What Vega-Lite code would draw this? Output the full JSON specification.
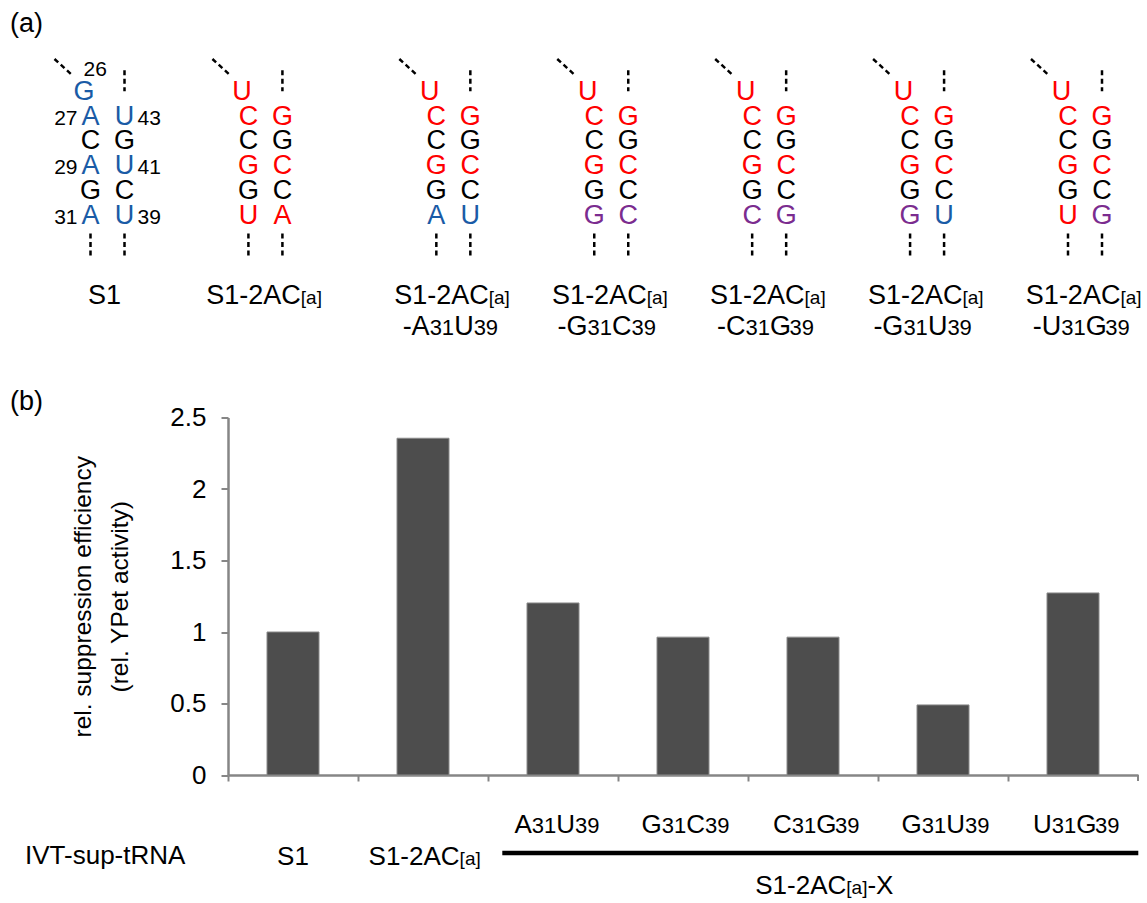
{
  "$schema": "https://vega.github.io/schema/vega-lite/v6.json",
  "width": 910,
  "height": 357.5,
  "autosize": {"type": "none"},
  "padding": {"left": 228, "top": 417.5, "right": 9, "bottom": 128},
  "background": "white",
  "config": {"font": "Liberation Sans", "view": {"stroke": null}, "text": {"font": "Liberation Sans", "color": "#000000"}},
  "datasets": {
    "bars": [
      {"sample": "S1", "value": 1.0},
      {"sample": "S1-2AC[a]", "value": 2.355},
      {"sample": "A31U39", "value": 1.203},
      {"sample": "G31C39", "value": 0.964},
      {"sample": "C31G39", "value": 0.964},
      {"sample": "G31U39", "value": 0.49},
      {"sample": "U31G39", "value": 1.273}
    ],
    "s2ac": [{"sample": "S1-2AC[a]", "main": "S1-2AC", "sub": "[a]"}],
    "xlab": [
      {"sample": "A31U39", "l1": "A", "n1": "31", "l2": "U", "n2": "39"},
      {"sample": "G31C39", "l1": "G", "n1": "31", "l2": "C", "n2": "39"},
      {"sample": "C31G39", "l1": "C", "n1": "31", "l2": "G", "n2": "39"},
      {"sample": "G31U39", "l1": "G", "n1": "31", "l2": "U", "n2": "39"},
      {"sample": "U31G39", "l1": "U", "n1": "31", "l2": "G", "n2": "39"}
    ],
    "xline": [{"from": "A31U39", "to": "U31G39"}],
    "xgroup": [{"sample": "C31G39", "main": "S1-2AC", "sub": "[a]", "tail": "-X"}],
    "ivt": [{"sample": "S1", "text": "IVT-sup-tRNA"}],
    "panels": [{"p": "(a)", "c": "S1"}, {"p": "(b)", "c": "S1"}],
    "labs": [
      {"c": "S1", "g": "S", "main": "S1"},
      {"c": "S1-2AC[a]", "g": "S", "main": "S1-2AC", "sub": "[a]"},
      {"c": "A31U39", "g": "X", "main": "S1-2AC", "sub": "[a]", "l1": "-A", "n1": "31", "l2": "U", "n2": "39"},
      {"c": "G31C39", "g": "X", "main": "S1-2AC", "sub": "[a]", "l1": "-G", "n1": "31", "l2": "C", "n2": "39"},
      {"c": "C31G39", "g": "X", "main": "S1-2AC", "sub": "[a]", "l1": "-C", "n1": "31", "l2": "G", "n2": "39"},
      {"c": "G31U39", "g": "X", "main": "S1-2AC", "sub": "[a]", "l1": "-G", "n1": "31", "l2": "U", "n2": "39"},
      {"c": "U31G39", "g": "X", "main": "S1-2AC", "sub": "[a]", "l1": "-U", "n1": "31", "l2": "G", "n2": "39"}
    ],
    "nums": [
      {"c": "S1", "g": "S", "side": "T", "r": 0, "t": "26"},
      {"c": "S1", "g": "S", "side": "L", "r": 1, "t": "27"},
      {"c": "S1", "g": "S", "side": "R", "r": 1, "t": "43"},
      {"c": "S1", "g": "S", "side": "L", "r": 3, "t": "29"},
      {"c": "S1", "g": "S", "side": "R", "r": 3, "t": "41"},
      {"c": "S1", "g": "S", "side": "L", "r": 5, "t": "31"},
      {"c": "S1", "g": "S", "side": "R", "r": 5, "t": "39"}
    ],
    "nt": [
      {"c": "S1", "g": "S", "s": "T", "r": 0, "b": "G", "k": "w"},
      {"c": "S1", "g": "S", "s": "L", "r": 1, "b": "A", "k": "w"},
      {"c": "S1", "g": "S", "s": "L", "r": 2, "b": "C", "k": "k"},
      {"c": "S1", "g": "S", "s": "L", "r": 3, "b": "A", "k": "w"},
      {"c": "S1", "g": "S", "s": "L", "r": 4, "b": "G", "k": "k"},
      {"c": "S1", "g": "S", "s": "L", "r": 5, "b": "A", "k": "w"},
      {"c": "S1", "g": "S", "s": "R", "r": 1, "b": "U", "k": "w"},
      {"c": "S1", "g": "S", "s": "R", "r": 2, "b": "G", "k": "k"},
      {"c": "S1", "g": "S", "s": "R", "r": 3, "b": "U", "k": "w"},
      {"c": "S1", "g": "S", "s": "R", "r": 4, "b": "C", "k": "k"},
      {"c": "S1", "g": "S", "s": "R", "r": 5, "b": "U", "k": "w"},

      {"c": "S1-2AC[a]", "g": "S", "s": "T", "r": 0, "b": "U", "k": "m"},
      {"c": "S1-2AC[a]", "g": "S", "s": "L", "r": 1, "b": "C", "k": "m"},
      {"c": "S1-2AC[a]", "g": "S", "s": "L", "r": 2, "b": "C", "k": "k"},
      {"c": "S1-2AC[a]", "g": "S", "s": "L", "r": 3, "b": "G", "k": "m"},
      {"c": "S1-2AC[a]", "g": "S", "s": "L", "r": 4, "b": "G", "k": "k"},
      {"c": "S1-2AC[a]", "g": "S", "s": "L", "r": 5, "b": "U", "k": "m"},
      {"c": "S1-2AC[a]", "g": "S", "s": "R", "r": 1, "b": "G", "k": "m"},
      {"c": "S1-2AC[a]", "g": "S", "s": "R", "r": 2, "b": "G", "k": "k"},
      {"c": "S1-2AC[a]", "g": "S", "s": "R", "r": 3, "b": "C", "k": "m"},
      {"c": "S1-2AC[a]", "g": "S", "s": "R", "r": 4, "b": "C", "k": "k"},
      {"c": "S1-2AC[a]", "g": "S", "s": "R", "r": 5, "b": "A", "k": "m"},

      {"c": "A31U39", "g": "X", "s": "T", "r": 0, "b": "U", "k": "m"},
      {"c": "A31U39", "g": "X", "s": "L", "r": 1, "b": "C", "k": "m"},
      {"c": "A31U39", "g": "X", "s": "L", "r": 2, "b": "C", "k": "k"},
      {"c": "A31U39", "g": "X", "s": "L", "r": 3, "b": "G", "k": "m"},
      {"c": "A31U39", "g": "X", "s": "L", "r": 4, "b": "G", "k": "k"},
      {"c": "A31U39", "g": "X", "s": "L", "r": 5, "b": "A", "k": "w"},
      {"c": "A31U39", "g": "X", "s": "R", "r": 1, "b": "G", "k": "m"},
      {"c": "A31U39", "g": "X", "s": "R", "r": 2, "b": "G", "k": "k"},
      {"c": "A31U39", "g": "X", "s": "R", "r": 3, "b": "C", "k": "m"},
      {"c": "A31U39", "g": "X", "s": "R", "r": 4, "b": "C", "k": "k"},
      {"c": "A31U39", "g": "X", "s": "R", "r": 5, "b": "U", "k": "w"},

      {"c": "G31C39", "g": "X", "s": "T", "r": 0, "b": "U", "k": "m"},
      {"c": "G31C39", "g": "X", "s": "L", "r": 1, "b": "C", "k": "m"},
      {"c": "G31C39", "g": "X", "s": "L", "r": 2, "b": "C", "k": "k"},
      {"c": "G31C39", "g": "X", "s": "L", "r": 3, "b": "G", "k": "m"},
      {"c": "G31C39", "g": "X", "s": "L", "r": 4, "b": "G", "k": "k"},
      {"c": "G31C39", "g": "X", "s": "L", "r": 5, "b": "G", "k": "p"},
      {"c": "G31C39", "g": "X", "s": "R", "r": 1, "b": "G", "k": "m"},
      {"c": "G31C39", "g": "X", "s": "R", "r": 2, "b": "G", "k": "k"},
      {"c": "G31C39", "g": "X", "s": "R", "r": 3, "b": "C", "k": "m"},
      {"c": "G31C39", "g": "X", "s": "R", "r": 4, "b": "C", "k": "k"},
      {"c": "G31C39", "g": "X", "s": "R", "r": 5, "b": "C", "k": "p"},

      {"c": "C31G39", "g": "X", "s": "T", "r": 0, "b": "U", "k": "m"},
      {"c": "C31G39", "g": "X", "s": "L", "r": 1, "b": "C", "k": "m"},
      {"c": "C31G39", "g": "X", "s": "L", "r": 2, "b": "C", "k": "k"},
      {"c": "C31G39", "g": "X", "s": "L", "r": 3, "b": "G", "k": "m"},
      {"c": "C31G39", "g": "X", "s": "L", "r": 4, "b": "G", "k": "k"},
      {"c": "C31G39", "g": "X", "s": "L", "r": 5, "b": "C", "k": "p"},
      {"c": "C31G39", "g": "X", "s": "R", "r": 1, "b": "G", "k": "m"},
      {"c": "C31G39", "g": "X", "s": "R", "r": 2, "b": "G", "k": "k"},
      {"c": "C31G39", "g": "X", "s": "R", "r": 3, "b": "C", "k": "m"},
      {"c": "C31G39", "g": "X", "s": "R", "r": 4, "b": "C", "k": "k"},
      {"c": "C31G39", "g": "X", "s": "R", "r": 5, "b": "G", "k": "p"},

      {"c": "G31U39", "g": "X", "s": "T", "r": 0, "b": "U", "k": "m"},
      {"c": "G31U39", "g": "X", "s": "L", "r": 1, "b": "C", "k": "m"},
      {"c": "G31U39", "g": "X", "s": "L", "r": 2, "b": "C", "k": "k"},
      {"c": "G31U39", "g": "X", "s": "L", "r": 3, "b": "G", "k": "m"},
      {"c": "G31U39", "g": "X", "s": "L", "r": 4, "b": "G", "k": "k"},
      {"c": "G31U39", "g": "X", "s": "L", "r": 5, "b": "G", "k": "p"},
      {"c": "G31U39", "g": "X", "s": "R", "r": 1, "b": "G", "k": "m"},
      {"c": "G31U39", "g": "X", "s": "R", "r": 2, "b": "G", "k": "k"},
      {"c": "G31U39", "g": "X", "s": "R", "r": 3, "b": "C", "k": "m"},
      {"c": "G31U39", "g": "X", "s": "R", "r": 4, "b": "C", "k": "k"},
      {"c": "G31U39", "g": "X", "s": "R", "r": 5, "b": "U", "k": "w"},

      {"c": "U31G39", "g": "X", "s": "T", "r": 0, "b": "U", "k": "m"},
      {"c": "U31G39", "g": "X", "s": "L", "r": 1, "b": "C", "k": "m"},
      {"c": "U31G39", "g": "X", "s": "L", "r": 2, "b": "C", "k": "k"},
      {"c": "U31G39", "g": "X", "s": "L", "r": 3, "b": "G", "k": "m"},
      {"c": "U31G39", "g": "X", "s": "L", "r": 4, "b": "G", "k": "k"},
      {"c": "U31G39", "g": "X", "s": "L", "r": 5, "b": "U", "k": "m"},
      {"c": "U31G39", "g": "X", "s": "R", "r": 1, "b": "G", "k": "m"},
      {"c": "U31G39", "g": "X", "s": "R", "r": 2, "b": "G", "k": "k"},
      {"c": "U31G39", "g": "X", "s": "R", "r": 3, "b": "C", "k": "m"},
      {"c": "U31G39", "g": "X", "s": "R", "r": 4, "b": "C", "k": "k"},
      {"c": "U31G39", "g": "X", "s": "R", "r": 5, "b": "G", "k": "p"}
    ]
  },
  "layer": [
    {
      "layer": [
        {
          "data": {"name": "bars"},
          "mark": {"type": "bar", "color": "#4d4d4d", "stroke": "#8a8a8a", "strokeWidth": 1, "width": {"band": 1}},
          "encoding": {
            "x": {"field": "sample", "type": "nominal", "sort": null,
              "scale": {"type": "band", "domain": ["S1", "S1-2AC[a]", "A31U39", "G31C39", "C31G39", "G31U39", "U31G39"], "paddingInner": 0.6, "paddingOuter": 0.3},
              "axis": {"labels": false, "title": null, "tickOffset": -65, "tickSize": 6, "tickColor": "#868686", "tickWidth": 2, "domainColor": "#868686", "domainWidth": 2.5, "grid": false}},
            "y": {"field": "value", "type": "quantitative",
              "scale": {"domain": [0, 2.5], "nice": false},
              "axis": {"values": [0, 0.5, 1, 1.5, 2, 2.5], "format": "~g", "labelFontSize": 26, "labelColor": "#000000", "labelPadding": 15, "labelFont": "Liberation Sans",
                "tickSize": 7, "tickColor": "#868686", "tickWidth": 2, "domainColor": "#868686", "domainWidth": 2.5, "grid": false,
                "title": ["rel. suppression efficiency", "(rel. YPet activity)"], "titleFont": "Liberation Sans", "titleFontSize": 24.5, "titleFontWeight": "normal", "titleColor": "#000000", "titleLineHeight": 37, "titlePadding": 37}}
          }
        },
        {
          "data": {"name": "xline"},
          "mark": {"type": "rule", "color": "#868686", "strokeWidth": 2, "xOffset": 65, "y2Offset": 6},
          "encoding": {
            "x": {"field": "to", "type": "nominal", "scale": {"type": "band", "domain": ["S1", "S1-2AC[a]", "A31U39", "G31C39", "C31G39", "G31U39", "U31G39"], "paddingInner": 0.6, "paddingOuter": 0.3}},
            "y": {"datum": 0, "type": "quantitative", "scale": {"domain": [0, 2.5], "nice": false}},
            "y2": {"datum": 0}
          }
        },
        {
          "data": {"name": "bars"},
          "transform": [{"filter": "datum.sample === 'S1'"}],
          "mark": {"type": "text", "fontSize": 26, "align": "center", "baseline": "alphabetic", "dy": 90},
          "encoding": {
            "x": {"field": "sample", "type": "nominal", "scale": {"type": "band", "domain": ["S1", "S1-2AC[a]", "A31U39", "G31C39", "C31G39", "G31U39", "U31G39"], "paddingInner": 0.6, "paddingOuter": 0.3}},
            "y": {"datum": 0, "type": "quantitative", "scale": {"domain": [0, 2.5], "nice": false}},
            "text": {"field": "sample"}
          }
        },
        {
          "data": {"name": "s2ac"},
          "mark": {"type": "text", "fontSize": 26, "align": "right", "baseline": "alphabetic", "dx": 36.6, "dy": 90},
          "encoding": {
            "x": {"field": "sample", "type": "nominal", "scale": {"type": "band", "domain": ["S1", "S1-2AC[a]", "A31U39", "G31C39", "C31G39", "G31U39", "U31G39"], "paddingInner": 0.6, "paddingOuter": 0.3}},
            "y": {"datum": 0, "type": "quantitative", "scale": {"domain": [0, 2.5], "nice": false}},
            "text": {"field": "main"}
          }
        },
        {
          "data": {"name": "s2ac"},
          "mark": {"type": "text", "fontSize": 19, "align": "left", "baseline": "alphabetic", "dx": 36.6, "dy": 90},
          "encoding": {
            "x": {"field": "sample", "type": "nominal", "scale": {"type": "band", "domain": ["S1", "S1-2AC[a]", "A31U39", "G31C39", "C31G39", "G31U39", "U31G39"], "paddingInner": 0.6, "paddingOuter": 0.3}},
            "y": {"datum": 0, "type": "quantitative", "scale": {"domain": [0, 2.5], "nice": false}},
            "text": {"field": "sub"}
          }
        },
        {
          "data": {"name": "xlab"},
          "mark": {"type": "text", "fontSize": 26, "align": "right", "baseline": "alphabetic", "dx": -21.2, "dy": 58},
          "encoding": {
            "x": {"field": "sample", "type": "nominal", "scale": {"type": "band", "domain": ["S1", "S1-2AC[a]", "A31U39", "G31C39", "C31G39", "G31U39", "U31G39"], "paddingInner": 0.6, "paddingOuter": 0.3}},
            "y": {"datum": 0, "type": "quantitative", "scale": {"domain": [0, 2.5], "nice": false}},
            "text": {"field": "l1"}
          }
        },
        {
          "data": {"name": "xlab"},
          "mark": {"type": "text", "fontSize": 22, "align": "left", "baseline": "alphabetic", "dx": -21.2, "dy": 58},
          "encoding": {
            "x": {"field": "sample", "type": "nominal", "scale": {"type": "band", "domain": ["S1", "S1-2AC[a]", "A31U39", "G31C39", "C31G39", "G31U39", "U31G39"], "paddingInner": 0.6, "paddingOuter": 0.3}},
            "y": {"datum": 0, "type": "quantitative", "scale": {"domain": [0, 2.5], "nice": false}},
            "text": {"field": "n1"}
          }
        },
        {
          "data": {"name": "xlab"},
          "mark": {"type": "text", "fontSize": 26, "align": "left", "baseline": "alphabetic", "dx": 3.3, "dy": 58},
          "encoding": {
            "x": {"field": "sample", "type": "nominal", "scale": {"type": "band", "domain": ["S1", "S1-2AC[a]", "A31U39", "G31C39", "C31G39", "G31U39", "U31G39"], "paddingInner": 0.6, "paddingOuter": 0.3}},
            "y": {"datum": 0, "type": "quantitative", "scale": {"domain": [0, 2.5], "nice": false}},
            "text": {"field": "l2"}
          }
        },
        {
          "data": {"name": "xlab"},
          "mark": {"type": "text", "fontSize": 22, "align": "left", "baseline": "alphabetic", "dx": 22.1, "dy": 58},
          "encoding": {
            "x": {"field": "sample", "type": "nominal", "scale": {"type": "band", "domain": ["S1", "S1-2AC[a]", "A31U39", "G31C39", "C31G39", "G31U39", "U31G39"], "paddingInner": 0.6, "paddingOuter": 0.3}},
            "y": {"datum": 0, "type": "quantitative", "scale": {"domain": [0, 2.5], "nice": false}},
            "text": {"field": "n2"}
          }
        },
        {
          "data": {"name": "xline"},
          "mark": {"type": "rule", "color": "#000000", "strokeWidth": 4.5, "xOffset": -50.7, "x2Offset": 65.3, "yOffset": 78},
          "encoding": {
            "x": {"field": "from", "type": "nominal", "scale": {"type": "band", "domain": ["S1", "S1-2AC[a]", "A31U39", "G31C39", "C31G39", "G31U39", "U31G39"], "paddingInner": 0.6, "paddingOuter": 0.3}},
            "x2": {"field": "to"},
            "y": {"datum": 0, "type": "quantitative", "scale": {"domain": [0, 2.5], "nice": false}}
          }
        },
        {
          "data": {"name": "xgroup"},
          "mark": {"type": "text", "fontSize": 26, "align": "right", "baseline": "alphabetic", "dx": 33.3, "dy": 119},
          "encoding": {
            "x": {"field": "sample", "type": "nominal", "scale": {"type": "band", "domain": ["S1", "S1-2AC[a]", "A31U39", "G31C39", "C31G39", "G31U39", "U31G39"], "paddingInner": 0.6, "paddingOuter": 0.3}},
            "y": {"datum": 0, "type": "quantitative", "scale": {"domain": [0, 2.5], "nice": false}},
            "text": {"field": "main"}
          }
        },
        {
          "data": {"name": "xgroup"},
          "mark": {"type": "text", "fontSize": 19, "align": "left", "baseline": "alphabetic", "dx": 33.3, "dy": 119},
          "encoding": {
            "x": {"field": "sample", "type": "nominal", "scale": {"type": "band", "domain": ["S1", "S1-2AC[a]", "A31U39", "G31C39", "C31G39", "G31U39", "U31G39"], "paddingInner": 0.6, "paddingOuter": 0.3}},
            "y": {"datum": 0, "type": "quantitative", "scale": {"domain": [0, 2.5], "nice": false}},
            "text": {"field": "sub"}
          }
        },
        {
          "data": {"name": "xgroup"},
          "mark": {"type": "text", "fontSize": 26, "align": "left", "baseline": "alphabetic", "dx": 54.4, "dy": 119},
          "encoding": {
            "x": {"field": "sample", "type": "nominal", "scale": {"type": "band", "domain": ["S1", "S1-2AC[a]", "A31U39", "G31C39", "C31G39", "G31U39", "U31G39"], "paddingInner": 0.6, "paddingOuter": 0.3}},
            "y": {"datum": 0, "type": "quantitative", "scale": {"domain": [0, 2.5], "nice": false}},
            "text": {"field": "tail"}
          }
        },
        {
          "data": {"name": "ivt"},
          "mark": {"type": "text", "fontSize": 26, "align": "left", "baseline": "alphabetic", "dx": -268, "dy": 89},
          "encoding": {
            "x": {"field": "sample", "type": "nominal", "scale": {"type": "band", "domain": ["S1", "S1-2AC[a]", "A31U39", "G31C39", "C31G39", "G31U39", "U31G39"], "paddingInner": 0.6, "paddingOuter": 0.3}},
            "y": {"datum": 0, "type": "quantitative", "scale": {"domain": [0, 2.5], "nice": false}},
            "text": {"field": "text"}
          }
        }
      ]
    },
    {
      "layer": [
        {
          "data": {"name": "nt"},
          "transform": [{"filter": "datum.s === 'T'"}],
          "mark": {"type": "text", "fontSize": 27, "align": "center", "baseline": "alphabetic", "dx": -23.5},
          "encoding": {
            "x": {"field": "c", "type": "nominal", "scale": {"type": "point", "domain": ["S1", "S1-2AC[a]", "A31U39", "G31C39", "C31G39", "G31U39", "U31G39"], "range": [-90.5, 857], "padding": 0}, "axis": null},
            "xOffset": {"field": "g", "type": "nominal", "scale": {"type": "point", "domain": ["S", "X"], "range": [-30, 0], "padding": 0}},
            "y": {"field": "r", "type": "quantitative", "scale": {"domain": [0, 10], "range": [-317.5, -70.3], "nice": false, "zero": false}, "axis": null},
            "text": {"field": "b"},
            "color": {"field": "k", "type": "nominal", "scale": {"domain": ["w", "m", "p", "k"], "range": ["#1a5ba6", "#ff0000", "#7b2c8f", "#000000"]}, "legend": null}
          }
        },
        {
          "data": {"name": "nt"},
          "transform": [{"filter": "datum.s === 'L'"}],
          "mark": {"type": "text", "fontSize": 27, "align": "center", "baseline": "alphabetic", "dx": -17},
          "encoding": {
            "x": {"field": "c", "type": "nominal", "scale": {"type": "point", "domain": ["S1", "S1-2AC[a]", "A31U39", "G31C39", "C31G39", "G31U39", "U31G39"], "range": [-90.5, 857], "padding": 0}, "axis": null},
            "xOffset": {"field": "g", "type": "nominal", "scale": {"type": "point", "domain": ["S", "X"], "range": [-30, 0], "padding": 0}},
            "y": {"field": "r", "type": "quantitative", "scale": {"domain": [0, 10], "range": [-317.5, -70.3], "nice": false, "zero": false}, "axis": null},
            "text": {"field": "b"},
            "color": {"field": "k", "type": "nominal", "scale": {"domain": ["w", "m", "p", "k"], "range": ["#1a5ba6", "#ff0000", "#7b2c8f", "#000000"]}, "legend": null}
          }
        },
        {
          "data": {"name": "nt"},
          "transform": [{"filter": "datum.s === 'R'"}],
          "mark": {"type": "text", "fontSize": 27, "align": "center", "baseline": "alphabetic", "dx": 17},
          "encoding": {
            "x": {"field": "c", "type": "nominal", "scale": {"type": "point", "domain": ["S1", "S1-2AC[a]", "A31U39", "G31C39", "C31G39", "G31U39", "U31G39"], "range": [-90.5, 857], "padding": 0}, "axis": null},
            "xOffset": {"field": "g", "type": "nominal", "scale": {"type": "point", "domain": ["S", "X"], "range": [-30, 0], "padding": 0}},
            "y": {"field": "r", "type": "quantitative", "scale": {"domain": [0, 10], "range": [-317.5, -70.3], "nice": false, "zero": false}, "axis": null},
            "text": {"field": "b"},
            "color": {"field": "k", "type": "nominal", "scale": {"domain": ["w", "m", "p", "k"], "range": ["#1a5ba6", "#ff0000", "#7b2c8f", "#000000"]}, "legend": null}
          }
        },
        {
          "data": {"name": "nums"},
          "transform": [{"filter": "datum.side === 'L'"}],
          "mark": {"type": "text", "fontSize": 21, "align": "right", "baseline": "alphabetic", "dx": -30},
          "encoding": {
            "x": {"field": "c", "type": "nominal", "scale": {"type": "point", "domain": ["S1", "S1-2AC[a]", "A31U39", "G31C39", "C31G39", "G31U39", "U31G39"], "range": [-90.5, 857], "padding": 0}, "axis": null},
            "xOffset": {"field": "g", "type": "nominal", "scale": {"type": "point", "domain": ["S", "X"], "range": [-30, 0], "padding": 0}},
            "y": {"field": "r", "type": "quantitative", "scale": {"domain": [0, 10], "range": [-317.5, -70.3], "nice": false, "zero": false}, "axis": null},
            "text": {"field": "t"}
          }
        },
        {
          "data": {"name": "nums"},
          "transform": [{"filter": "datum.side === 'R'"}],
          "mark": {"type": "text", "fontSize": 21, "align": "left", "baseline": "alphabetic", "dx": 30},
          "encoding": {
            "x": {"field": "c", "type": "nominal", "scale": {"type": "point", "domain": ["S1", "S1-2AC[a]", "A31U39", "G31C39", "C31G39", "G31U39", "U31G39"], "range": [-90.5, 857], "padding": 0}, "axis": null},
            "xOffset": {"field": "g", "type": "nominal", "scale": {"type": "point", "domain": ["S", "X"], "range": [-30, 0], "padding": 0}},
            "y": {"field": "r", "type": "quantitative", "scale": {"domain": [0, 10], "range": [-317.5, -70.3], "nice": false, "zero": false}, "axis": null},
            "text": {"field": "t"}
          }
        },
        {
          "data": {"name": "nums"},
          "transform": [{"filter": "datum.side === 'T'"}],
          "mark": {"type": "text", "fontSize": 21, "align": "left", "baseline": "alphabetic", "dx": -24, "dy": -24.5},
          "encoding": {
            "x": {"field": "c", "type": "nominal", "scale": {"type": "point", "domain": ["S1", "S1-2AC[a]", "A31U39", "G31C39", "C31G39", "G31U39", "U31G39"], "range": [-90.5, 857], "padding": 0}, "axis": null},
            "xOffset": {"field": "g", "type": "nominal", "scale": {"type": "point", "domain": ["S", "X"], "range": [-30, 0], "padding": 0}},
            "y": {"field": "r", "type": "quantitative", "scale": {"domain": [0, 10], "range": [-317.5, -70.3], "nice": false, "zero": false}, "axis": null},
            "text": {"field": "t"}
          }
        },
        {
          "data": {"name": "labs"},
          "transform": [{"filter": "datum.sub"}],
          "mark": {"type": "text", "fontSize": 27, "align": "right", "baseline": "alphabetic", "dx": 35.4},
          "encoding": {
            "x": {"field": "c", "type": "nominal", "scale": {"type": "point", "domain": ["S1", "S1-2AC[a]", "A31U39", "G31C39", "C31G39", "G31U39", "U31G39"], "range": [-90.5, 857], "padding": 0}, "axis": null},
            "xOffset": {"field": "g", "type": "nominal", "scale": {"type": "point", "domain": ["S", "X"], "range": [-30, 0], "padding": 0}},
            "y": {"datum": 8.27, "type": "quantitative", "scale": {"domain": [0, 10], "range": [-317.5, -70.3], "nice": false, "zero": false}, "axis": null},
            "text": {"field": "main"}
          }
        },
        {
          "data": {"name": "labs"},
          "transform": [{"filter": "datum.sub"}],
          "mark": {"type": "text", "fontSize": 19, "align": "left", "baseline": "alphabetic", "dx": 35.4},
          "encoding": {
            "x": {"field": "c", "type": "nominal", "scale": {"type": "point", "domain": ["S1", "S1-2AC[a]", "A31U39", "G31C39", "C31G39", "G31U39", "U31G39"], "range": [-90.5, 857], "padding": 0}, "axis": null},
            "xOffset": {"field": "g", "type": "nominal", "scale": {"type": "point", "domain": ["S", "X"], "range": [-30, 0], "padding": 0}},
            "y": {"datum": 8.27, "type": "quantitative", "scale": {"domain": [0, 10], "range": [-317.5, -70.3], "nice": false, "zero": false}, "axis": null},
            "text": {"field": "sub"}
          }
        },
        {
          "data": {"name": "labs"},
          "transform": [{"filter": "datum.c === 'S1'"}],
          "mark": {"type": "text", "fontSize": 27, "align": "center", "baseline": "alphabetic", "dx": -3},
          "encoding": {
            "x": {"field": "c", "type": "nominal", "scale": {"type": "point", "domain": ["S1", "S1-2AC[a]", "A31U39", "G31C39", "C31G39", "G31U39", "U31G39"], "range": [-90.5, 857], "padding": 0}, "axis": null},
            "xOffset": {"field": "g", "type": "nominal", "scale": {"type": "point", "domain": ["S", "X"], "range": [-30, 0], "padding": 0}},
            "y": {"datum": 8.27, "type": "quantitative", "scale": {"domain": [0, 10], "range": [-317.5, -70.3], "nice": false, "zero": false}, "axis": null},
            "text": {"field": "main"}
          }
        },
        {
          "data": {"name": "labs"},
          "transform": [{"filter": "datum.g === 'X'"}],
          "mark": {"type": "text", "fontSize": 27, "align": "right", "baseline": "alphabetic", "dx": -23.7},
          "encoding": {
            "x": {"field": "c", "type": "nominal", "scale": {"type": "point", "domain": ["S1", "S1-2AC[a]", "A31U39", "G31C39", "C31G39", "G31U39", "U31G39"], "range": [-90.5, 857], "padding": 0}, "axis": null},
            "xOffset": {"field": "g", "type": "nominal", "scale": {"type": "point", "domain": ["S", "X"], "range": [-30, 0], "padding": 0}},
            "y": {"datum": 9.51, "type": "quantitative", "scale": {"domain": [0, 10], "range": [-317.5, -70.3], "nice": false, "zero": false}, "axis": null},
            "text": {"field": "l1"}
          }
        },
        {
          "data": {"name": "labs"},
          "transform": [{"filter": "datum.g === 'X'"}],
          "mark": {"type": "text", "fontSize": 22, "align": "left", "baseline": "alphabetic", "dx": -23.7},
          "encoding": {
            "x": {"field": "c", "type": "nominal", "scale": {"type": "point", "domain": ["S1", "S1-2AC[a]", "A31U39", "G31C39", "C31G39", "G31U39", "U31G39"], "range": [-90.5, 857], "padding": 0}, "axis": null},
            "xOffset": {"field": "g", "type": "nominal", "scale": {"type": "point", "domain": ["S", "X"], "range": [-30, 0], "padding": 0}},
            "y": {"datum": 9.51, "type": "quantitative", "scale": {"domain": [0, 10], "range": [-317.5, -70.3], "nice": false, "zero": false}, "axis": null},
            "text": {"field": "n1"}
          }
        },
        {
          "data": {"name": "labs"},
          "transform": [{"filter": "datum.g === 'X'"}],
          "mark": {"type": "text", "fontSize": 27, "align": "left", "baseline": "alphabetic", "dx": 0.8},
          "encoding": {
            "x": {"field": "c", "type": "nominal", "scale": {"type": "point", "domain": ["S1", "S1-2AC[a]", "A31U39", "G31C39", "C31G39", "G31U39", "U31G39"], "range": [-90.5, 857], "padding": 0}, "axis": null},
            "xOffset": {"field": "g", "type": "nominal", "scale": {"type": "point", "domain": ["S", "X"], "range": [-30, 0], "padding": 0}},
            "y": {"datum": 9.51, "type": "quantitative", "scale": {"domain": [0, 10], "range": [-317.5, -70.3], "nice": false, "zero": false}, "axis": null},
            "text": {"field": "l2"}
          }
        },
        {
          "data": {"name": "labs"},
          "transform": [{"filter": "datum.g === 'X'"}],
          "mark": {"type": "text", "fontSize": 22, "align": "left", "baseline": "alphabetic", "dx": 20.3},
          "encoding": {
            "x": {"field": "c", "type": "nominal", "scale": {"type": "point", "domain": ["S1", "S1-2AC[a]", "A31U39", "G31C39", "C31G39", "G31U39", "U31G39"], "range": [-90.5, 857], "padding": 0}, "axis": null},
            "xOffset": {"field": "g", "type": "nominal", "scale": {"type": "point", "domain": ["S", "X"], "range": [-30, 0], "padding": 0}},
            "y": {"datum": 9.51, "type": "quantitative", "scale": {"domain": [0, 10], "range": [-317.5, -70.3], "nice": false, "zero": false}, "axis": null},
            "text": {"field": "n2"}
          }
        },
        {
          "data": {"name": "labs"},
          "transform": [{"filter": "datum.g === 'S'"}],
          "mark": {"type": "rule", "color": "#000000", "strokeWidth": 2.5, "strokeDash": [5, 3.5], "xOffset": -13},
          "encoding": {
            "x": {"field": "c", "type": "nominal", "scale": {"type": "point", "domain": ["S1", "S1-2AC[a]", "A31U39", "G31C39", "C31G39", "G31U39", "U31G39"], "range": [-90.5, 857], "padding": 0}, "axis": null},
            "y": {"datum": -1.2, "type": "quantitative", "scale": {"domain": [0, 10], "range": [-317.5, -70.3], "nice": false, "zero": false}, "axis": null},
            "y2": {"datum": -0.35}
          }
        },
        {
          "data": {"name": "labs"},
          "transform": [{"filter": "datum.g === 'X'"}],
          "mark": {"type": "rule", "color": "#000000", "strokeWidth": 2.5, "strokeDash": [5, 3.5], "xOffset": 17},
          "encoding": {
            "x": {"field": "c", "type": "nominal", "scale": {"type": "point", "domain": ["S1", "S1-2AC[a]", "A31U39", "G31C39", "C31G39", "G31U39", "U31G39"], "range": [-90.5, 857], "padding": 0}, "axis": null},
            "y": {"datum": -1.2, "type": "quantitative", "scale": {"domain": [0, 10], "range": [-317.5, -70.3], "nice": false, "zero": false}, "axis": null},
            "y2": {"datum": -0.35}
          }
        },
        {
          "data": {"name": "labs"},
          "transform": [{"filter": "datum.g === 'S'"}],
          "mark": {"type": "rule", "color": "#000000", "strokeWidth": 2.5, "strokeDash": [5, 3.5], "xOffset": -47},
          "encoding": {
            "x": {"field": "c", "type": "nominal", "scale": {"type": "point", "domain": ["S1", "S1-2AC[a]", "A31U39", "G31C39", "C31G39", "G31U39", "U31G39"], "range": [-90.5, 857], "padding": 0}, "axis": null},
            "y": {"datum": 5.4, "type": "quantitative", "scale": {"domain": [0, 10], "range": [-317.5, -70.3], "nice": false, "zero": false}, "axis": null},
            "y2": {"datum": 6.33}
          }
        },
        {
          "data": {"name": "labs"},
          "transform": [{"filter": "datum.g === 'S'"}],
          "mark": {"type": "rule", "color": "#000000", "strokeWidth": 2.5, "strokeDash": [5, 3.5], "xOffset": -13},
          "encoding": {
            "x": {"field": "c", "type": "nominal", "scale": {"type": "point", "domain": ["S1", "S1-2AC[a]", "A31U39", "G31C39", "C31G39", "G31U39", "U31G39"], "range": [-90.5, 857], "padding": 0}, "axis": null},
            "y": {"datum": 5.4, "type": "quantitative", "scale": {"domain": [0, 10], "range": [-317.5, -70.3], "nice": false, "zero": false}, "axis": null},
            "y2": {"datum": 6.33}
          }
        },
        {
          "data": {"name": "labs"},
          "transform": [{"filter": "datum.g === 'X'"}],
          "mark": {"type": "rule", "color": "#000000", "strokeWidth": 2.5, "strokeDash": [5, 3.5], "xOffset": -17},
          "encoding": {
            "x": {"field": "c", "type": "nominal", "scale": {"type": "point", "domain": ["S1", "S1-2AC[a]", "A31U39", "G31C39", "C31G39", "G31U39", "U31G39"], "range": [-90.5, 857], "padding": 0}, "axis": null},
            "y": {"datum": 5.4, "type": "quantitative", "scale": {"domain": [0, 10], "range": [-317.5, -70.3], "nice": false, "zero": false}, "axis": null},
            "y2": {"datum": 6.33}
          }
        },
        {
          "data": {"name": "labs"},
          "transform": [{"filter": "datum.g === 'X'"}],
          "mark": {"type": "rule", "color": "#000000", "strokeWidth": 2.5, "strokeDash": [5, 3.5], "xOffset": 17},
          "encoding": {
            "x": {"field": "c", "type": "nominal", "scale": {"type": "point", "domain": ["S1", "S1-2AC[a]", "A31U39", "G31C39", "C31G39", "G31U39", "U31G39"], "range": [-90.5, 857], "padding": 0}, "axis": null},
            "y": {"datum": 5.4, "type": "quantitative", "scale": {"domain": [0, 10], "range": [-317.5, -70.3], "nice": false, "zero": false}, "axis": null},
            "y2": {"datum": 6.33}
          }
        },
        {
          "data": {"name": "labs"},
          "transform": [{"filter": "datum.g === 'S'"}],
          "mark": {"type": "rule", "color": "#000000", "strokeWidth": 2.5, "strokeDash": [5, 3.5], "xOffset": -83, "x2Offset": -66.5},
          "encoding": {
            "x": {"field": "c", "type": "nominal", "scale": {"type": "point", "domain": ["S1", "S1-2AC[a]", "A31U39", "G31C39", "C31G39", "G31U39", "U31G39"], "range": [-90.5, 857], "padding": 0}, "axis": null},
            "x2": {"field": "c"},
            "y": {"datum": -1.66, "type": "quantitative", "scale": {"domain": [0, 10], "range": [-317.5, -70.3], "nice": false, "zero": false}, "axis": null},
            "y2": {"datum": -1.05}
          }
        },
        {
          "data": {"name": "labs"},
          "transform": [{"filter": "datum.g === 'X'"}],
          "mark": {"type": "rule", "color": "#000000", "strokeWidth": 2.5, "strokeDash": [5, 3.5], "xOffset": -54, "x2Offset": -37.5},
          "encoding": {
            "x": {"field": "c", "type": "nominal", "scale": {"type": "point", "domain": ["S1", "S1-2AC[a]", "A31U39", "G31C39", "C31G39", "G31U39", "U31G39"], "range": [-90.5, 857], "padding": 0}, "axis": null},
            "x2": {"field": "c"},
            "y": {"datum": -1.66, "type": "quantitative", "scale": {"domain": [0, 10], "range": [-317.5, -70.3], "nice": false, "zero": false}, "axis": null},
            "y2": {"datum": -1.05}
          }
        },
        {
          "data": {"name": "panels"},
          "transform": [{"filter": "datum.p === '(a)'"}],
          "mark": {"type": "text", "fontSize": 27, "align": "left", "baseline": "alphabetic", "dx": -127.5},
          "encoding": {
            "x": {"field": "c", "type": "nominal", "scale": {"type": "point", "domain": ["S1", "S1-2AC[a]", "A31U39", "G31C39", "C31G39", "G31U39", "U31G39"], "range": [-90.5, 857], "padding": 0}, "axis": null},
            "y": {"datum": -2.76, "type": "quantitative", "scale": {"domain": [0, 10], "range": [-317.5, -70.3], "nice": false, "zero": false}, "axis": null},
            "text": {"field": "p"}
          }
        },
        {
          "data": {"name": "panels"},
          "transform": [{"filter": "datum.p === '(b)'"}],
          "mark": {"type": "text", "fontSize": 27, "align": "left", "baseline": "alphabetic", "dx": -127.5},
          "encoding": {
            "x": {"field": "c", "type": "nominal", "scale": {"type": "point", "domain": ["S1", "S1-2AC[a]", "A31U39", "G31C39", "C31G39", "G31U39", "U31G39"], "range": [-90.5, 857], "padding": 0}, "axis": null},
            "y": {"datum": 12.53, "type": "quantitative", "scale": {"domain": [0, 10], "range": [-317.5, -70.3], "nice": false, "zero": false}, "axis": null},
            "text": {"field": "p"}
          }
        }
      ]
    }
  ],
  "resolve": {"scale": {"x": "independent", "y": "independent", "xOffset": "independent", "color": "independent"}}
}
